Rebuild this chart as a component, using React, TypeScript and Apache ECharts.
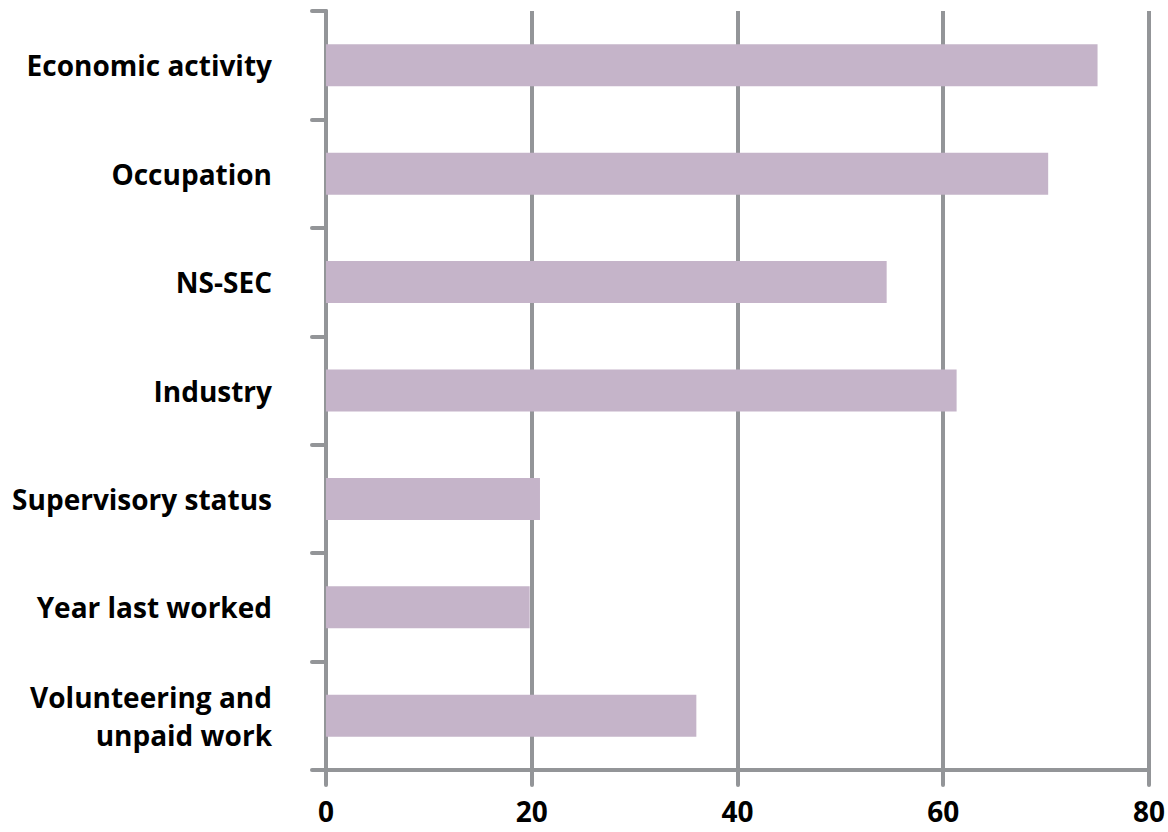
import React, { useEffect, useRef } from "react";
import * as echarts from "echarts";

const categories = [
  "Economic activity",
  "Occupation",
  "NS-SEC",
  "Industry",
  "Supervisory status",
  "Year last worked",
  "Volunteering and\nunpaid work",
];
const values = [75, 70.2, 54.5, 61.3, 20.8, 19.8, 36];
const xTicks = { min: 0, max: 80, interval: 20 };

export default function App() {
  const ref = useRef<HTMLDivElement>(null);
  useEffect(() => {
    const chart = echarts.init(ref.current!, null, { renderer: "svg" });
    const lineColor = "#939598";
    const font = "'Open Sans', Lato, sans-serif";
    chart.setOption({
      animation: false,
      grid: { left: 326, right: 19, top: 11, bottom: 62, containLabel: false },
      xAxis: {
        type: "value",
        min: xTicks.min,
        max: xTicks.max,
        interval: xTicks.interval,
        axisLine: { show: true, lineStyle: { color: lineColor, width: 4, cap: "round" } },
        axisTick: { show: true, length: 15, lineStyle: { color: lineColor, width: 4, cap: "round" } },
        splitLine: { show: true, lineStyle: { color: lineColor, width: 4 } },
        axisLabel: {
          color: "#000",
          fontFamily: font,
          fontWeight: "bold",
          fontSize: 28,
          lineHeight: 28,
          margin: 27,
        },
      },
      yAxis: {
        type: "category",
        inverse: true,
        data: categories,
        axisLine: { show: true, lineStyle: { color: lineColor, width: 4, cap: "round" } },
        axisTick: { show: true, length: 14, lineStyle: { color: lineColor, width: 4, cap: "round" } },
        axisLabel: {
          color: "#000",
          fontFamily: font,
          fontWeight: "bold",
          fontSize: 28,
          margin: 54,
          lineHeight: 38,
          align: "right",
        },
      },
      series: [
        {
          type: "bar",
          data: values,
          barWidth: 42,
          itemStyle: { color: "#c5b4c9" },
        },
      ],
    });
    return () => chart.dispose();
  }, []);
  return <div ref={ref} style={{ width: 1168, height: 832, position: "absolute", left: 0, top: 0 }} />;
}
